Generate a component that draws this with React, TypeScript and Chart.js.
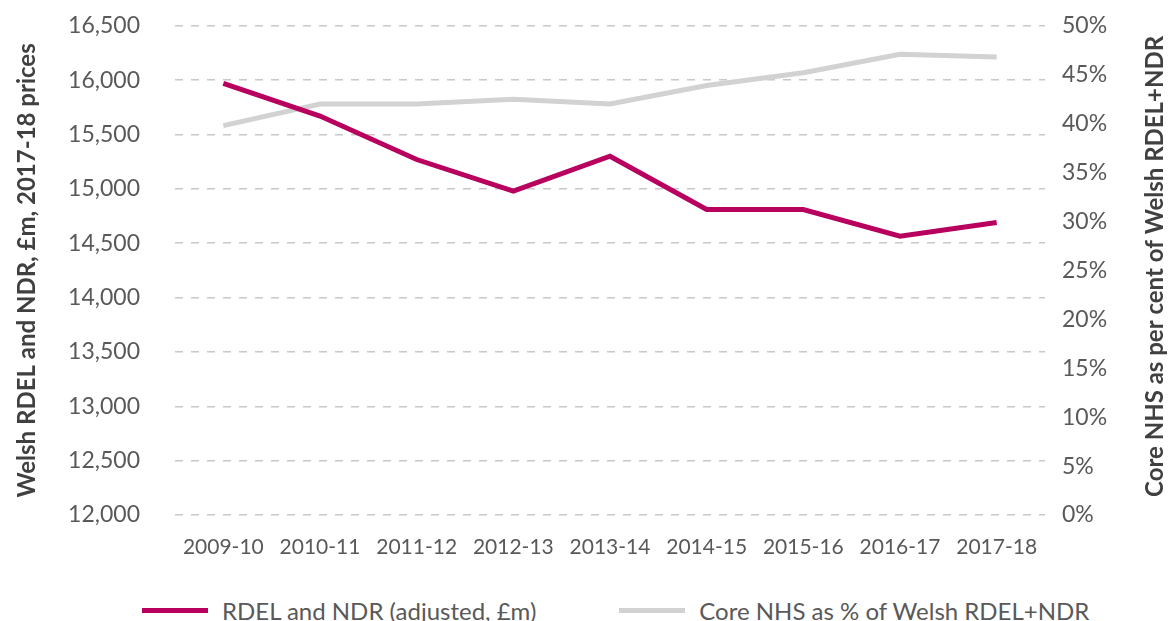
import React, { useEffect, useRef } from 'react';
import { Chart, registerables } from 'chart.js';

Chart.register(...registerables);

const categories = ['2009-10', '2010-11', '2011-12', '2012-13', '2013-14', '2014-15', '2015-16', '2016-17', '2017-18'];
const rdelNdrValues = [15970, 15670, 15270, 14980, 15300, 14810, 14810, 14565, 14690];
const coreNhsSharePct = [39.8, 42.0, 42.0, 42.5, 42.0, 43.9, 45.2, 47.1, 46.8];

const leftAxisMin = 12000;
const leftAxisMax = 16500;
const leftAxisStep = 500;
const rightAxisMin = 0;
const rightAxisMax = 50;
const rightAxisStep = 5;

const seriesLabels = ['RDEL and NDR (adjusted, £m)', 'Core NHS as % of Welsh RDEL+NDR'];
const leftAxisTitle = 'Welsh RDEL and NDR, £m, 2017-18 prices';
const rightAxisTitle = 'Core NHS as per cent of Welsh RDEL+NDR';

const MAGENTA = '#b8005f';
const GREY_LINE = '#d2d2d2';
const TICK_COLOR = '#595959';
const TITLE_COLOR = '#404040';
const FONT = 'Lato, "Open Sans", sans-serif';
const CANVAS_SHIFT = 23;

const rightTitlePlugin = {
  id: 'rightTitle',
  afterDraw(chart: any) {
    const { ctx, chartArea } = chart;
    ctx.save();
    ctx.font = `bold 24px ${FONT}`;
    ctx.fillStyle = TITLE_COLOR;
    ctx.textAlign = 'center';
    ctx.textBaseline = 'middle';
    ctx.translate(1155, (chartArea.top + chartArea.bottom) / 2 - 4);
    ctx.rotate(-Math.PI / 2);
    ctx.fillText(rightAxisTitle, 0, 0);
    ctx.restore();
  },
};

export default function App() {
  const canvasRef = useRef<HTMLCanvasElement>(null);

  useEffect(() => {
    if (!canvasRef.current) return;
    const chart = new Chart(canvasRef.current, {
      type: 'line',
      data: {
        labels: categories,
        datasets: [
          {
            label: seriesLabels[0],
            data: rdelNdrValues,
            borderColor: MAGENTA,
            backgroundColor: MAGENTA,
            borderWidth: 5,
            pointRadius: 0,
            tension: 0,
            yAxisID: 'y',
          },
          {
            label: seriesLabels[1],
            data: coreNhsSharePct,
            borderColor: GREY_LINE,
            backgroundColor: GREY_LINE,
            borderWidth: 5,
            pointRadius: 0,
            tension: 0,
            yAxisID: 'y1',
          },
        ],
      },
      options: {
        animation: false,
        responsive: true,
        maintainAspectRatio: false,
        layout: { padding: { top: 7, left: 0, right: 0, bottom: 0 } },
        plugins: {
          legend: { display: false },
          tooltip: { enabled: false },
        },
        scales: {
          x: {
            offset: true,
            grid: { display: false, drawTicks: false },
            border: { display: false },
            ticks: {
              color: TICK_COLOR,
              font: { family: FONT, size: 21 },
              padding: 20,
              maxRotation: 0,
              autoSkip: false,
            },
            afterFit: (s: any) => {
              s.height = 65;
            },
          },
          y: {
            position: 'left',
            min: leftAxisMin,
            max: leftAxisMax,
            ticks: {
              stepSize: leftAxisStep,
              color: TICK_COLOR,
              font: { family: FONT, size: 23 },
              padding: 35,
              callback: (v: any) => Number(v).toLocaleString('en-GB'),
            },
            grid: { color: '#c8c8c8', lineWidth: 1.5, drawTicks: false },
            border: { display: false, dash: [8, 8] },
            title: {
              display: true,
              text: leftAxisTitle,
              color: TITLE_COLOR,
              font: { family: FONT, size: 24, weight: 'bold' },
              padding: { top: 13, bottom: 0 },
            },
            afterFit: (s: any) => {
              s.width = 175;
            },
          },
          y1: {
            position: 'right',
            min: rightAxisMin,
            max: rightAxisMax,
            ticks: {
              stepSize: rightAxisStep,
              color: TICK_COLOR,
              font: { family: FONT, size: 23 },
              padding: 17,
              callback: (v: any) => `${v}%`,
            },
            grid: { display: false, drawTicks: false },
            border: { display: false },
            afterFit: (s: any) => {
              s.width = 124;
            },
          },
        },
      },
      plugins: [rightTitlePlugin],
    });
    return () => chart.destroy();
  }, []);

  const legendColors = [MAGENTA, GREY_LINE];

  return (
    <div style={{ position: 'absolute', left: 0, top: 0, width: 1169, height: 621, background: '#fff', overflow: 'hidden' }}>
      <div style={{ position: 'absolute', left: 0, top: -CANVAS_SHIFT, width: 1169, height: 580 + CANVAS_SHIFT }}>
        <canvas ref={canvasRef} />
      </div>
      <div
        style={{
          position: 'absolute',
          left: 142,
          top: 596,
          height: 28,
          display: 'flex',
          alignItems: 'center',
          fontFamily: FONT,
          fontSize: 24,
          color: TICK_COLOR,
          whiteSpace: 'nowrap',
        }}
      >
        {seriesLabels.map((lbl, i) => (
          <div key={lbl} style={{ display: 'flex', alignItems: 'center', marginRight: i === 0 ? 83 : 0 }}>
            <div style={{ width: 66, height: 5, background: legendColors[i], marginRight: 14 }} />
            <span>{lbl}</span>
          </div>
        ))}
      </div>
    </div>
  );
}
